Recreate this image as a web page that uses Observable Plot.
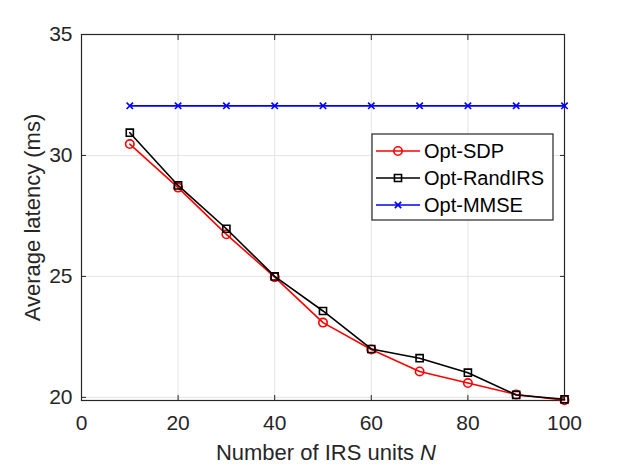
<!DOCTYPE html>
<html>
<head>
<meta charset="utf-8">
<script src="https://cdn.jsdelivr.net/npm/d3@7"></script>
<script src="https://cdn.jsdelivr.net/npm/@observablehq/plot@0.6"></script>
<style>
  html, body { margin: 0; padding: 0; background: #fff; }
</style>
</head>
<body>
<div id="chart"></div>
<script>
const N = [10, 20, 30, 40, 50, 60, 70, 80, 90, 100];
const optSDP = [30.47, 28.67, 26.74, 24.97, 23.09, 21.98, 21.07, 20.59, 20.12, 19.88];
const optRandIRS = [30.94, 28.76, 26.97, 25.0, 23.57, 22.0, 21.62, 21.02, 20.1, 19.92];
const optMMSE = [32.05, 32.05, 32.05, 32.05, 32.05, 32.05, 32.05, 32.05, 32.05, 32.05];
const seriesNames = ["Opt-SDP", "Opt-RandIRS", "Opt-MMSE"];
const seriesColors = ["#ff0000", "#000000", "#0000ff"];
const seriesSymbols = ["circle", "square", "times"];
const xTicks = [0, 20, 40, 60, 80, 100];
const yTicks = [20, 25, 30, 35];
const xLabel = "Number of IRS units";
const xLabelVar = "N";
const yLabel = "Average latency (ms)";

const rows = [];
[optSDP, optRandIRS, optMMSE].forEach((vals, s) => {
  vals.forEach((v, i) => rows.push({n: N[i], v, s: seriesNames[s]}));
});

const axisColor = "#262626";
const font = "'Liberation Sans', Arial, Helvetica, sans-serif";

const markerR = {"circle": 4.2, "square": 4.0, "times": 3.0};

const marks = [
  Plot.gridX(xTicks, {stroke: "#e4e4e4", strokeOpacity: 1}),
  Plot.gridY(yTicks, {stroke: "#e4e4e4", strokeOpacity: 1}),
  Plot.axisX(xTicks, {anchor: "bottom", tickSize: -5, tickPadding: 20, label: null, color: axisColor, stroke: axisColor}),
  Plot.axisX(xTicks, {anchor: "top", tickSize: -5, tickFormat: () => "", label: null, stroke: axisColor}),
  Plot.axisY(yTicks, {anchor: "left", tickSize: -5, tickPadding: 14, label: null, color: axisColor, stroke: axisColor}),
  Plot.axisY(yTicks, {anchor: "right", tickSize: -5, tickFormat: () => "", label: null, stroke: axisColor}),
  Plot.frame({stroke: axisColor, strokeWidth: 1.2})
];

seriesNames.forEach((name, s) => {
  const data = rows.filter(d => d.s === name);
  marks.push(Plot.line(data, {x: "n", y: "v", stroke: seriesColors[s], strokeWidth: 1.6}));
  marks.push(Plot.dot(data, {x: "n", y: "v", symbol: () => seriesSymbols[s], r: markerR[seriesSymbols[s]], stroke: seriesColors[s], strokeWidth: 1.6, fill: "none"}));
});

marks.push(Plot.text([yLabel], {frameAnchor: "left", rotate: -90, dx: -49, fontSize: 22, fill: axisColor, textAnchor: "middle", lineAnchor: "middle"}));
marks.push(Plot.text([xLabel], {frameAnchor: "bottom", dx: 91, dy: 52, fontSize: 22, fill: axisColor, textAnchor: "end", lineAnchor: "middle"}));
marks.push(Plot.text([xLabelVar], {frameAnchor: "bottom", dx: 97, dy: 52, fontSize: 22, fill: axisColor, textAnchor: "start", lineAnchor: "middle", fontStyle: "italic"}));

const chart = Plot.plot({
  width: 623,
  height: 467,
  marginLeft: 81,
  marginRight: 59,
  marginTop: 34,
  marginBottom: 67,
  style: {fontFamily: font, fontSize: "21px", color: axisColor, background: "#fff"},
  x: {domain: [0, 100]},
  y: {domain: [19.87, 35]},
  marks
});

const svg = d3.select(chart);
svg.selectAll("g[aria-label$='tick label']").attr("font-size", 21).attr("fill", axisColor);

// Legend (inside the plot, MATLAB style)
const lg = svg.append("g").attr("font-family", font).attr("font-size", 20).attr("text-anchor", "start");
const bx = 372, by = 134, bw = 181, bh = 86;
lg.append("rect").attr("x", bx).attr("y", by).attr("width", bw).attr("height", bh)
  .attr("fill", "#fff").attr("stroke", axisColor).attr("stroke-width", 1.2);
const rowY = [151, 178, 205];
seriesNames.forEach((name, s) => {
  const y = rowY[s];
  lg.append("line").attr("x1", 376).attr("x2", 420).attr("y1", y).attr("y2", y)
    .attr("stroke", seriesColors[s]).attr("stroke-width", 1.6);
  const sym = {"circle": d3.symbolCircle, "square": d3.symbolSquare, "times": d3.symbolTimes}[seriesSymbols[s]];
  const r = markerR[seriesSymbols[s]];
  lg.append("path").attr("transform", `translate(398,${y})`)
    .attr("d", d3.symbol(sym, Math.PI * r * r)())
    .attr("fill", "none").attr("stroke", seriesColors[s]).attr("stroke-width", 1.6);
  lg.append("text").attr("x", 424).attr("y", y).attr("dy", "0.35em")
    .attr("text-anchor", "start").attr("fill", "#000").text(name);
});

document.getElementById("chart").appendChild(chart);
</script>
</body>
</html>
